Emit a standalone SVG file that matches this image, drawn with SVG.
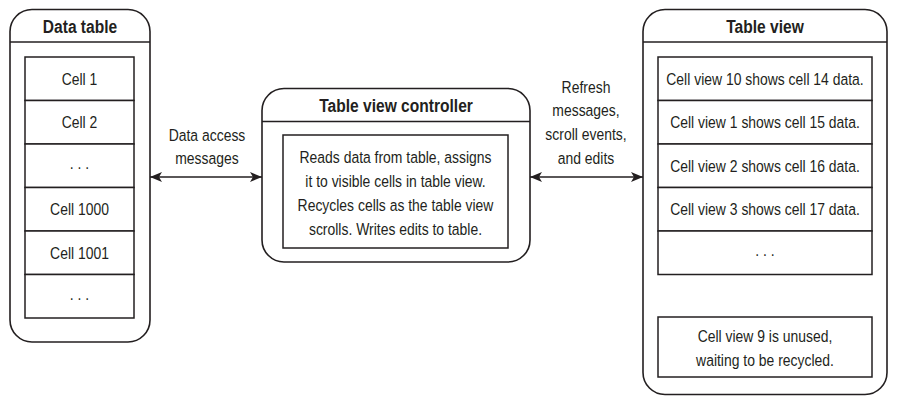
<svg xmlns="http://www.w3.org/2000/svg" width="899" height="400" viewBox="0 0 899 400">
  <style>
    .frame { fill: #fff; stroke: #231f20; stroke-width: 1.6; }
    .cell { fill: #fff; stroke: #231f20; stroke-width: 1.5; }
    .rule { stroke: #231f20; stroke-width: 1.5; }
    text { font-family: "Liberation Sans", Arial, sans-serif; fill: #231f20; text-anchor: middle; }
    .title { font-size: 19px; font-weight: bold; }
    .body { font-size: 17px; }
    .link { stroke: #231f20; stroke-width: 1.5; fill: none; }
  </style>
  <defs>
    <marker id="arrow" viewBox="0 0 12 10" refX="12" refY="5" markerWidth="12" markerHeight="10" markerUnits="userSpaceOnUse" orient="auto-start-reverse">
      <path d="M0,0 L12,5 L0,10 L3,5 Z" fill="#231f20"/>
    </marker>
  </defs>

  <rect width="899" height="400" fill="#fff"/>

  <!-- Data table; labels are narrowed horizontally (0.82) for a condensed face -->
  <g id="data-table">
    <rect class="frame" x="10" y="9.5" width="140" height="332.5" rx="22" ry="22"/>
    <line class="rule" x1="10" y1="42" x2="150" y2="42"/>
    <text class="title" transform="matrix(0.82 0 0 1 80 33)">Data table</text>
    <rect class="cell" x="25" y="57" width="109" height="43.5"/>
    <rect class="cell" x="25" y="100.5" width="109" height="43.5"/>
    <rect class="cell" x="25" y="144" width="109" height="43.5"/>
    <rect class="cell" x="25" y="187.5" width="109" height="43.5"/>
    <rect class="cell" x="25" y="231" width="109" height="43.5"/>
    <rect class="cell" x="25" y="274.5" width="109" height="43.5"/>
    <text class="body" transform="matrix(0.82 0 0 1 79.5 84.5)">Cell 1</text>
    <text class="body" transform="matrix(0.82 0 0 1 79.5 128)">Cell 2</text>
    <text class="body" transform="matrix(0.82 0 0 1 79.5 169)">. . .</text>
    <text class="body" transform="matrix(0.82 0 0 1 79.5 215)">Cell 1000</text>
    <text class="body" transform="matrix(0.82 0 0 1 79.5 258.5)">Cell 1001</text>
    <text class="body" transform="matrix(0.82 0 0 1 79.5 299.5)">. . .</text>
  </g>

  <!-- Table view controller -->
  <g id="controller">
    <rect class="frame" x="262" y="88.5" width="268" height="173.5" rx="22" ry="22"/>
    <line class="rule" x1="262" y1="121.5" x2="530" y2="121.5"/>
    <text class="title" transform="matrix(0.82 0 0 1 396 112)">Table view controller</text>
    <rect class="cell" x="283" y="135" width="225" height="113"/>
    <text class="body" transform="matrix(0.82 0 0 1 395.5 163)">Reads data from table, assigns</text>
    <text class="body" transform="matrix(0.82 0 0 1 395.5 187)">it to visible cells in table view.</text>
    <text class="body" transform="matrix(0.82 0 0 1 395.5 211)">Recycles cells as the table view</text>
    <text class="body" transform="matrix(0.82 0 0 1 395.5 235)">scrolls. Writes edits to table.</text>
  </g>

  <!-- Table view -->
  <g id="table-view">
    <rect class="frame" x="643" y="9.5" width="244" height="385" rx="22" ry="22"/>
    <line class="rule" x1="643" y1="42" x2="887" y2="42"/>
    <text class="title" transform="matrix(0.82 0 0 1 765 33)">Table view</text>
    <rect class="cell" x="658" y="57" width="214" height="43.5"/>
    <rect class="cell" x="658" y="100.5" width="214" height="43.5"/>
    <rect class="cell" x="658" y="144" width="214" height="43.5"/>
    <rect class="cell" x="658" y="187.5" width="214" height="43.5"/>
    <rect class="cell" x="658" y="231" width="214" height="43.5"/>
    <text class="body" transform="matrix(0.82 0 0 1 765 84.5)">Cell view 10 shows cell 14 data.</text>
    <text class="body" transform="matrix(0.82 0 0 1 765 128)">Cell view 1 shows cell 15 data.</text>
    <text class="body" transform="matrix(0.82 0 0 1 765 171.5)">Cell view 2 shows cell 16 data.</text>
    <text class="body" transform="matrix(0.82 0 0 1 765 215)">Cell view 3 shows cell 17 data.</text>
    <text class="body" transform="matrix(0.82 0 0 1 765 256)">. . .</text>
    <rect class="cell" x="658" y="317" width="214" height="60"/>
    <text class="body" transform="matrix(0.82 0 0 1 765 342)">Cell view 9 is unused,</text>
    <text class="body" transform="matrix(0.82 0 0 1 765 366)">waiting to be recycled.</text>
  </g>

  <!-- Connectors -->
  <g id="connectors">
    <line class="link" x1="150" y1="177" x2="262" y2="177" marker-start="url(#arrow)" marker-end="url(#arrow)"/>
    <text class="body" transform="matrix(0.82 0 0 1 207 141)">Data access</text>
    <text class="body" transform="matrix(0.82 0 0 1 207 164)">messages</text>
    <line class="link" x1="530" y1="177" x2="643" y2="177" marker-start="url(#arrow)" marker-end="url(#arrow)"/>
    <text class="body" transform="matrix(0.82 0 0 1 586 93)">Refresh</text>
    <text class="body" transform="matrix(0.82 0 0 1 586 116)">messages,</text>
    <text class="body" transform="matrix(0.82 0 0 1 586 140)">scroll events,</text>
    <text class="body" transform="matrix(0.82 0 0 1 586 164)">and edits</text>
  </g>
</svg>
